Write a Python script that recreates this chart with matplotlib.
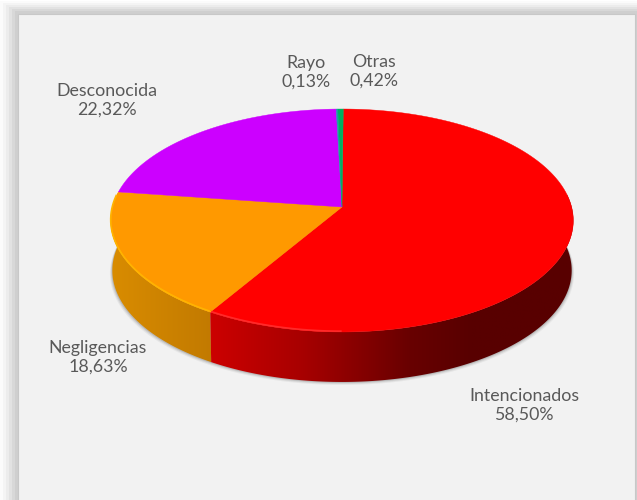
import numpy as np
import matplotlib
matplotlib.use("Agg")
import matplotlib.pyplot as plt
from matplotlib.patches import Polygon, Rectangle
from matplotlib.colors import LinearSegmentedColormap

plt.rcParams['font.family'] = ['Lato', 'DejaVu Sans']

# values, clockwise from the top of the pie
labels = ["Intencionados", "Negligencias", "Desconocida", "Rayo", "Otras"]
values = [58.50, 18.63, 22.32, 0.13, 0.42]
value_labels = ["58,50%", "18,63%", "22,32%", "0,13%", "0,42%"]
colors = ["#ff0000", "#ff9900", "#cc00ff", "#1c9cb0", "#00b060"]
label_pos = [(524, 405), (98, 357), (107, 100), (306, 72), (374, 71)]

# pie geometry in pixels
cx = 342.0
apex_y = 207.0
rx = 229.6
ry = -84.8
persp = 0.121
depth = 50
bottom_scale = 0.993
start_deg = 0.35

fig = plt.figure(figsize=(6.37, 5.0), dpi=100)
ax = fig.add_axes([0, 0, 1, 1])
ax.set_xlim(0, 637)
ax.set_ylim(500, 0)
ax.axis("off")


def project(theta):
    # circle seen in perspective, theta clockwise from the back
    u = np.sin(theta)
    v = np.cos(theta)
    w = 1 + persp * v
    return cx + rx * u / w, (ry * v + apex_y) / w


# card background
for i, g in enumerate(["#fbfbfb", "#f4f4f4", "#ececec", "#e2e2e2", "#d8d8d8", "#cfcfcf"]):
    ax.add_patch(Rectangle((3 * i, 2 * i + 1), 640 - 3 * i, 510, fc=g, ec="none"))
ax.add_patch(Rectangle((18, 14), 617, 490, fc="#f2f2f2", ec="#c8c8c8", lw=0.8))

# soft shadow under the side wall
t = np.linspace(0, 2 * np.pi, 400)
px, py = project(t)
px = cx + (px - cx) * bottom_scale
for grow, alpha in [(3, 0.08), (2, 0.12), (1, 0.2)]:
    ax.add_patch(Polygon(np.c_[px + grow * np.sin(t) * 0.8, py + depth + grow], fc="#555555", ec="none", alpha=alpha))

# side wall, shaded left to right
cum = np.radians(np.cumsum([0] + values) * 3.6 + start_deg)
side_cmaps = {
    0: [(0, "#cc0000"), (0.25, "#a80000"), (0.55, "#680000"), (0.72, "#580000"), (1, "#580000")],
    1: [(0, "#d98c00"), (1, "#c27a00")],
}
for i in [1, 0]:
    a = np.linspace(cum[i], cum[i + 1], 300)
    a = a[(np.cos(a) < 0.12) | (i == 1)]
    x, y = project(a)
    x2 = cx + (x - cx) * bottom_scale
    pts = np.r_[np.c_[x, y], np.c_[x2[::-1], y[::-1] + depth]]
    poly = Polygon(pts, fc="none", ec="none")
    ax.add_patch(poly)
    cmap = LinearSegmentedColormap.from_list("side", side_cmaps[i])
    grad = np.linspace(0, 1, 256).reshape(1, -1)
    im = ax.imshow(grad, extent=(pts[:, 0].min(), pts[:, 0].max(), pts[:, 1].max(), pts[:, 1].min()),
                   cmap=cmap, aspect="auto", zorder=2)
    im.set_clip_path(poly)
ax.set_xlim(0, 637)
ax.set_ylim(500, 0)

# top face
for i in range(len(values)):
    a = np.linspace(cum[i], cum[i + 1], 300)
    x, y = project(a)
    pts = np.r_[[[cx, apex_y]], np.c_[x, y]]
    ax.add_patch(Polygon(pts, fc=colors[i], ec=colors[i], lw=0.3, zorder=3))

# thin highlight along the front rim, left part only
for i, c in [(0, "#ff2a2a"), (1, "#ffb400")]:
    a = np.linspace(cum[i], cum[i + 1], 200)
    a = a[(np.cos(a) < 0.1) & (np.sin(a) < 0.0)]
    x, y = project(a)
    ax.plot(x, y - 0.8, color=c, lw=1.2, zorder=4)

# labels
for lab, val, (lx, ly) in zip(labels, value_labels, label_pos):
    ax.text(lx, ly, lab + "\n" + val, ha="center", va="center", fontsize=12.8,
            color="#595959", linespacing=1.2, zorder=5)

fig.savefig("out.png", dpi=100)
